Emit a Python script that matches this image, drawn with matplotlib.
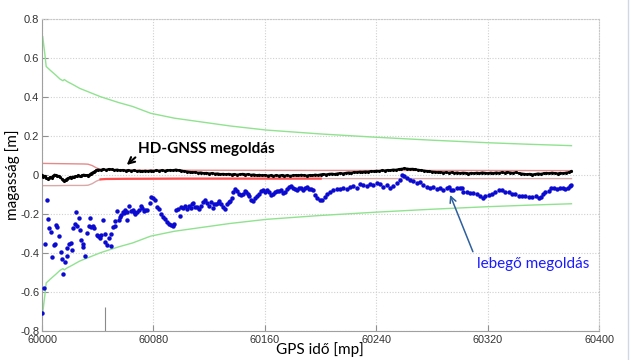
import numpy as np
import matplotlib
matplotlib.use('Agg')
import matplotlib.pyplot as plt
from matplotlib.lines import Line2D
from matplotlib.ticker import FuncFormatter

t0 = 60000

# HD-GNSS megoldas (seconds after t0, height m)
hd_t = list(range(0, 41)) + list(range(42, 382, 2))
hd_h = [-0.002, -0.010, -0.006, -0.015, -0.022, -0.018, -0.012, -0.016, -0.006, 0.000,
        -0.004, -0.009, -0.006, -0.014, -0.020, -0.026, -0.032, -0.026, -0.020, -0.018,
        -0.013, -0.015, -0.010, -0.013, -0.009, -0.007, -0.004, -0.008, -0.006, -0.003,
        0.000, -0.004, -0.002, -0.005, 0.000, 0.006, 0.010, 0.014, 0.018, 0.022, 0.026,
        0.024, 0.028, 0.025, 0.029, 0.027, 0.024, 0.026, 0.022, 0.024, 0.021,
        0.023, 0.020, 0.022, 0.018, 0.020, 0.017, 0.020, 0.018, 0.021, 0.019,
        0.022, 0.020, 0.023, 0.020, 0.022, 0.024, 0.022, 0.026, 0.023, 0.021,
        0.018, 0.016, 0.014, 0.012, 0.013, 0.010, 0.011, 0.008, 0.009, 0.006,
        0.008, 0.005, 0.006, 0.003, 0.004, 0.002, 0.004, 0.001, 0.003, 0.000,
        0.002, 0.004, 0.001, 0.003, -0.001, 0.001, -0.003, -0.001, -0.004, -0.002,
        -0.005, -0.003, -0.006, -0.003, -0.005, -0.002, -0.005, -0.003, -0.006, -0.004,
        -0.002, -0.004, -0.001, -0.003, -0.005, -0.002, -0.004, 0.000, -0.002, 0.001,
        0.003, 0.001, 0.004, 0.005, 0.003, 0.006, 0.008, 0.006, 0.009, 0.011,
        0.010, 0.013, 0.012, 0.015, 0.014, 0.016, 0.015, 0.018, 0.017, 0.020,
        0.019, 0.022, 0.021, 0.024, 0.023, 0.026, 0.025, 0.028, 0.030, 0.032,
        0.031, 0.029, 0.030, 0.027, 0.025, 0.023, 0.021, 0.019, 0.017, 0.015,
        0.014, 0.012, 0.013, 0.011, 0.012, 0.010, 0.012, 0.009, 0.011, 0.008,
        0.010, 0.009, 0.006, 0.009, 0.007, 0.010, 0.008, 0.011, 0.009, 0.007,
        0.010, 0.008, 0.011, 0.009, 0.012, 0.010, 0.013, 0.011, 0.009, 0.012,
        0.008, 0.006, 0.004, 0.002, 0.004, 0.001, 0.003, 0.006, 0.004, 0.007,
        0.009, 0.007, 0.010, 0.008, 0.006, 0.009, 0.007, 0.010, 0.012, 0.018]

# lebego megoldas
float_t = [0.0, 1.5, 2.4, 3.3, 4.3, 5.3, 6.7, 7.2, 8.6, 9.6, 10.0, 11.0, 12.4, 13.4, 14.4,
           15.3, 16.7, 17.7, 18.2, 19.6, 20.6, 21.5, 22.5, 23.5, 24.4, 24.9, 26.3, 27.3,
           28.2, 29.2, 29.6, 31.1, 32.5, 33.5, 34.5, 35.4, 36.4, 37.3, 39.2, 40.2, 41.6,
           42.6, 43.6, 45.0, 45.5, 46.9, 48.3, 49.3, 49.8, 50.8, 52.2, 52.6, 53.6, 55.0,
           56.0, 56.9, 57.9, 58.9, 59.8, 60.8, 61.2, 62.7, 63.7, 65.1, 66.0, 67.0, 68.0,
           69.4, 70.9, 71.8, 73.2, 74.2, 75.2, 77.5, 78.5, 79.9, 81.3, 82.8, 84.2, 85.6,
           87.1, 88.5, 89.9, 90.9, 92.4, 93.8, 94.8, 96.2, 97.6, 99.0, 100.0, 101.4,
           102.9, 103.8, 105.3, 106.7, 107.7, 108.6, 110.0, 111.5, 112.9, 114.4, 115.8,
           117.2, 118.7, 120.1, 121.1, 122.5, 123.4, 124.9, 126.3, 127.3, 128.7, 130.2,
           131.6, 132.6, 134.0, 135.0, 136.4, 137.3, 138.8, 140.2, 141.6, 143.1, 144.1,
           145.5, 146.4, 147.9, 148.8, 150.3, 151.7, 153.1, 154.6, 156.0, 157.5, 158.9,
           160.3, 161.8, 163.2, 164.6, 166.0, 167.5, 168.9, 170.4, 171.8, 173.2, 174.7,
           176.1, 177.5, 179.0, 180.4, 181.8, 183.3, 184.7, 186.1, 187.6, 189.0, 190.5,
           191.9, 193.4, 194.8, 196.2, 197.7, 199.6, 201.0, 202.9, 204.8, 206.7, 209.1,
           211.5, 213.9, 216.3, 218.7, 221.1, 223.5, 225.9, 228.3, 230.7, 233.1, 235.5,
           237.9, 240.3, 242.7, 245.0, 247.4, 249.8, 252.2, 254.6, 257.0, 258.4, 259.9,
           261.8, 264.2, 266.5, 268.9, 271.4, 273.7, 276.1, 278.5, 280.9, 283.3, 285.7,
           288.1, 290.5, 292.0, 293.4, 295.3, 297.7, 300.1, 301.5, 302.4, 304.8, 307.2,
           309.6, 312.0, 314.4, 316.8, 318.2, 320.6, 323.0, 325.4, 327.9, 330.2, 332.6,
           335.0, 337.4, 339.8, 342.2, 344.6, 347.0, 349.4, 351.8, 354.2, 356.6, 358.0,
           359.4, 361.3, 363.7, 365.6, 367.5, 369.5, 371.8, 373.8, 375.7, 377.6, 379.0,
           380.0]
float_h = [-0.710, -0.580, -0.357, -0.131, -0.227, -0.272, -0.296, -0.422, -0.360, -0.354,
           -0.258, -0.268, -0.313, -0.395, -0.432, -0.510, -0.446, -0.415, -0.374, -0.354,
           -0.350, -0.388, -0.275, -0.251, -0.193, -0.265, -0.220, -0.285, -0.337, -0.371,
           -0.357, -0.418, -0.299, -0.261, -0.220, -0.268, -0.265, -0.275, -0.309, -0.313,
           -0.323, -0.309, -0.231, -0.303, -0.344, -0.360, -0.323, -0.364, -0.303, -0.268,
           -0.265, -0.237, -0.186, -0.234, -0.217, -0.207, -0.190, -0.196, -0.179, -0.234,
           -0.190, -0.159, -0.186, -0.179, -0.193, -0.200, -0.190, -0.183, -0.162, -0.172,
           -0.186, -0.179, -0.183, -0.145, -0.114, -0.121, -0.128, -0.166, -0.176, -0.203,
           -0.217, -0.227, -0.241, -0.254, -0.258, -0.265, -0.254, -0.183, -0.176, -0.213,
           -0.166, -0.169, -0.162, -0.176, -0.159, -0.169, -0.152, -0.145, -0.166, -0.166,
           -0.176, -0.162, -0.141, -0.131, -0.145, -0.159, -0.141, -0.169, -0.152, -0.149,
           -0.145, -0.135, -0.149, -0.166, -0.176, -0.152, -0.141, -0.135, -0.118, -0.087,
           -0.073, -0.084, -0.097, -0.104, -0.097, -0.084, -0.090, -0.101, -0.111, -0.128,
           -0.135, -0.121, -0.111, -0.097, -0.084, -0.080, -0.087, -0.080, -0.090, -0.104,
           -0.101, -0.090, -0.084, -0.084, -0.077, -0.094, -0.087, -0.073, -0.063, -0.056,
           -0.067, -0.073, -0.077, -0.070, -0.067, -0.077, -0.070, -0.063, -0.073, -0.075,
           -0.077, -0.104, -0.118, -0.131, -0.128, -0.114, -0.101, -0.087, -0.080, -0.073,
           -0.073, -0.067, -0.073, -0.063, -0.056, -0.070, -0.049, -0.053, -0.059, -0.046,
           -0.053, -0.043, -0.049, -0.063, -0.053, -0.070, -0.056, -0.043, -0.026, -0.002,
           -0.008, -0.017, -0.026, -0.034, -0.043, -0.039, -0.053, -0.063, -0.067, -0.062,
           -0.072, -0.067, -0.077, -0.070, -0.063, -0.080, -0.080, -0.070, -0.070, -0.067,
           -0.090, -0.087, -0.094, -0.094, -0.101, -0.108, -0.121, -0.111, -0.104, -0.097,
           -0.090, -0.077, -0.080, -0.087, -0.090, -0.097, -0.101, -0.108, -0.111, -0.108,
           -0.114, -0.114, -0.111, -0.118, -0.114, -0.097, -0.090, -0.084, -0.070, -0.067,
           -0.073, -0.067, -0.070, -0.073, -0.067, -0.056, -0.053]

# red band of the fixed solution
band_t = [0, 10, 20, 30, 33, 36, 39, 42, 46, 60, 100, 200, 300, 380]
band_up = [0.058, 0.057, 0.056, 0.055, 0.054, 0.047, 0.035, 0.027, 0.025, 0.024, 0.023, 0.022, 0.022, 0.021]
band_lo = [-0.056, -0.056, -0.055, -0.055, -0.054, -0.046, -0.033, -0.024, -0.022, -0.021, -0.020, -0.020, -0.020, -0.020]
band_split = 240  # lower line bright red up to here

# green envelope of the float solution
env_t = [0, 0.5, 2, 3, 6, 10, 13, 15, 16, 18, 22, 27, 35, 42, 55, 65, 78, 95, 113, 135,
         161, 200, 240, 280, 320, 350, 380]
env_h = [0.60, 0.71, 0.62, 0.555, 0.535, 0.51, 0.49, 0.482, 0.488, 0.478, 0.463, 0.443,
         0.42, 0.40, 0.37, 0.35, 0.315, 0.29, 0.272, 0.25, 0.229, 0.209, 0.192, 0.177,
         0.164, 0.156, 0.149]

mark_t = 45
mark_h = [-0.8, -0.68]

x_ticks = [60000, 60080, 60160, 60240, 60320, 60400]
y_ticks = [-0.8, -0.6, -0.4, -0.2, 0, 0.2, 0.4, 0.6, 0.8]

fig = plt.figure(figsize=(6.3, 3.6), dpi=100)
ax = fig.add_axes([0.0667, 0.0814, 0.8846, 0.8666])

et = np.array(env_t) + t0
eh = np.array(env_h)
ax.plot(et, eh, color='#90e290', lw=1.0, zorder=2)
ax.plot(et, -eh, color='#90e290', lw=1.0, zorder=2)

bt = np.array(band_t) + t0
bl = np.array(band_lo)
ax.plot(bt, band_up, color='#e58a8a', lw=1.0, zorder=2)
ax.plot(bt, bl, color='#d9a8a8', lw=1.0, zorder=2)
sel = (bt >= t0 + 40) & (bt <= t0 + band_split)
ax.plot(bt[sel], bl[sel], color='#ff4d4d', lw=1.6, zorder=2)

ax.plot(np.array(float_t) + t0, float_h, ls='none', marker='o', ms=3.2, mew=0,
        mfc='#0a0ad0', zorder=3)
ax.plot(np.array(hd_t) + t0, hd_h, color='black', lw=1.6, marker='.', ms=2.5, zorder=4)

ax.vlines(mark_t + t0, mark_h[0], mark_h[1], color='#8a8a8a', lw=0.8)

ax.set_xlim(60000, 60400)
ax.set_ylim(-0.8, 0.8)
ax.set_xticks(x_ticks)
ax.set_yticks(y_ticks)
ax.yaxis.set_major_formatter(FuncFormatter(lambda v, p: ('%g' % round(v, 1))))
ax.grid(True, color='#d0d0d0', lw=0.8, ls=(0, (1, 1.5)))
ax.set_axisbelow(True)
for s in ['top', 'right']:
    ax.spines[s].set_color('#c8c8c8')
    ax.spines[s].set_linestyle((0, (1, 1.5)))
for s in ['left', 'bottom']:
    ax.spines[s].set_color('#a0a0a0')
ax.tick_params(direction='in', length=4, color='#909090')
ax.tick_params(axis='x', labelsize=7.8, pad=3, labelcolor='#333333')
ax.tick_params(axis='y', labelsize=8, pad=2, labelcolor='#333333')
for lab in ax.get_xticklabels() + ax.get_yticklabels():
    lab.set_family('Liberation Sans')

ax.annotate('HD-GNSS megoldás', xy=(60060.8, 0.05), xytext=(60069, 0.13),
            fontsize=11, fontweight='bold', family='Lato', va='center', ha='left',
            arrowprops=dict(arrowstyle='->', color='black', lw=1.5,
                            shrinkA=0, shrinkB=0, relpos=(0, 0.1)))
ax.annotate('lebegő megoldás', xy=(60292.9, -0.104), xytext=(60312, -0.458),
            fontsize=11, family='Lato', color='#1a1aff', va='center', ha='left',
            arrowprops=dict(arrowstyle='->', color='#2e5f9e', lw=1.1,
                            shrinkA=2, shrinkB=0, relpos=(0, 0.7)))

fig.text(0.02, 0.514, 'magasság [m]', rotation=90, fontsize=11, family='Lato',
         ha='center', va='center')
fig.text(0.508, 0.03, 'GPS idő [mp]', fontsize=11, family='Lato',
         ha='center', va='center')
fig.add_artist(Line2D([0.997, 0.997], [0, 1], color='#d0d8e8', lw=1.0))

fig.savefig('out.png', dpi=100)
